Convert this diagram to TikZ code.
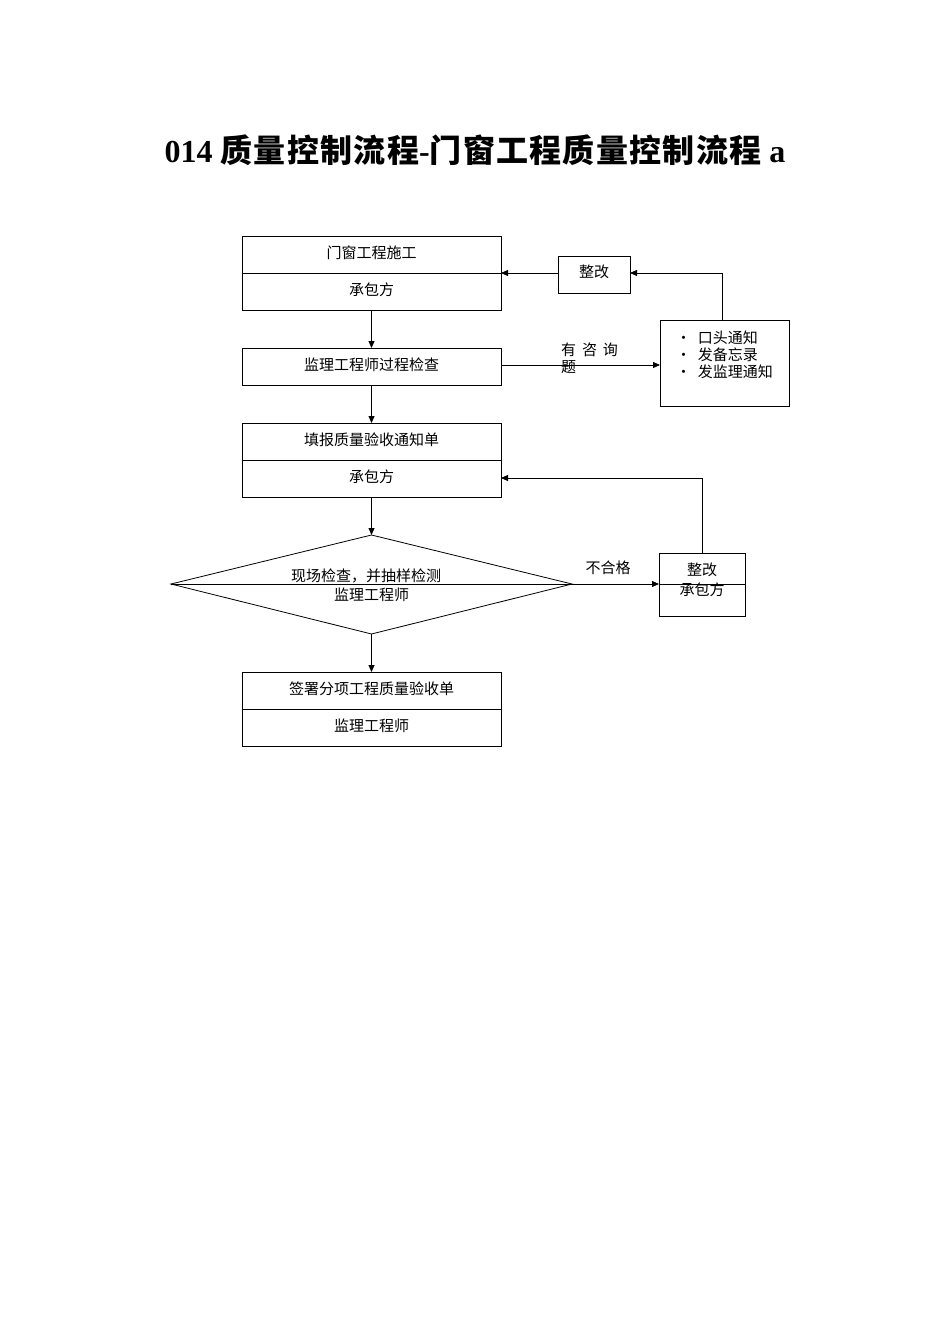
\documentclass[tikz,border=0pt]{standalone}
\usepackage{fontspec}
\setmainfont{Liberation Serif}
\newfontfamily\cjk{Noto Sans CJK SC}
\newfontfamily\cjkw{Noto Sans CJK SC}[LetterSpace=4]
\usetikzlibrary{arrows.meta}
\begin{document}
\begin{tikzpicture}[x=1pt,y=-1pt,
  bx/.style={draw,thick,line width=0.8pt},
  tx/.style={font=\cjk\fontsize{15}{17}\selectfont,inner sep=0pt},
  arr/.style={draw,line width=0.8pt,-{Triangle[length=7pt,width=6pt]}}]
\useasboundingbox (0,0) rectangle (950,1344);
\node[font=\bfseries\fontsize{32}{36}\selectfont,inner sep=0pt] (title) at (475,150) {014\ {\cjkw 质量控制流程}-{\cjkw 门窗工程质量控制流程}\ a};
% box1
\draw[bx] (242,236) rectangle (501,310); \draw[bx] (242,273) -- (501,273);
\coordinate (b1t) at (371.5,236); \coordinate (b1b) at (371.5,310); \coordinate (b1r) at (501,273);
\node[tx] (t1) at (371.5,253) {门窗工程施工};
\node[tx] (t1b) at (371.5,290) {承包方};
% zhenggai1
\draw[bx] (558,256) rectangle (630,293);
\coordinate (z1l) at (558,273); \coordinate (z1r) at (630,273);
\node[tx] (z1) at (594,272) {整改};
% box2
\draw[bx] (242,348) rectangle (501,385);
\coordinate (b2t) at (371.5,348); \coordinate (b2b) at (371.5,385); \coordinate (b2r) at (501,365);
\node[tx] (t2) at (371.5,365) {监理工程师过程检查};
% bullets
\draw[bx] (660,320) rectangle (789,406);
\coordinate (blt) at (722,320); \coordinate (bll) at (660,365);
\node[tx,anchor=west,align=left] (bl) at (676,355) {•\ \ 口头通知\\•\ \ 发备忘录\\•\ \ 发监理通知};
% box3
\draw[bx] (242,423) rectangle (501,497); \draw[bx] (242,460) -- (501,460);
\coordinate (b3t) at (371.5,423); \coordinate (b3b) at (371.5,497); \coordinate (b3r) at (501,478);
\node[tx] (t3) at (371.5,440) {填报质量验收通知单};
\node[tx] (t3b) at (371.5,477) {承包方};
% diamond
\draw[bx] (171,584) -- (371.5,535) -- (572,584) -- (371.5,634) -- cycle;
\draw[bx] (171,584) -- (572,584);
\coordinate (dt) at (371.5,535); \coordinate (db) at (371.5,634); \coordinate (dr) at (572,584);
\node[tx] (dtx) at (366,576) {现场检查，并抽样检测};
\node[tx] (dtx2) at (371.5,595) {监理工程师};
% zhenggai2
\draw[bx] (659,553) rectangle (745,616); \draw[bx] (659,584) -- (745,584);
\coordinate (z2l) at (659,584); \coordinate (z2t) at (702,553);
\node[tx] (z2) at (702,570) {整改};
\node[tx] (z2b) at (702,590) {承包方};
% box4
\draw[bx] (242,672) rectangle (501,746); \draw[bx] (242,709) -- (501,709);
\coordinate (b4t) at (371.5,672);
\node[tx] (t4) at (371.5,689) {签署分项工程质量验收单};
\node[tx] (t4b) at (371.5,726) {监理工程师};
% arrows
\draw[arr] (b1b) -- (b2t);
\draw[arr] (b2b) -- (b3t);
\draw[arr] (b3b) -- (dt);
\draw[arr] (db) -- (b4t);
\draw[arr] (b2r) -- (bll);
\node[tx,anchor=west,align=left] (lq) at (561,358) {有\,\ 咨\,\ 询\\题};
\draw[arr] (blt) -- (722,273) -- (z1r);
\draw[arr] (z1l) -- (b1r);
\draw[arr] (dr) -- (z2l);
\node[tx] (bh) at (608,568) {不合格};
\draw[arr] (z2t) -- (702,478) -- (b3r);
\end{tikzpicture}
\end{document}
